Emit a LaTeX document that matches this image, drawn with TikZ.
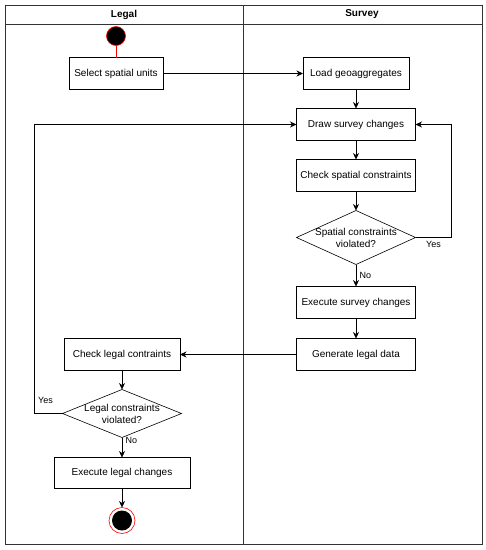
\documentclass[tikz,border=0pt]{standalone}
\usepackage{fontspec}
\setmainfont{Liberation Sans}
\usetikzlibrary{positioning, shapes.geometric, arrows.meta}

\begin{document}
\begin{tikzpicture}[x=1pt, y=-1pt,
      node distance=19pt, line width=0.6pt,
      act/.style={draw, minimum width=119pt, minimum height=32pt, inner sep=2pt, outer sep=0pt},
      dec/.style={draw, diamond, minimum width=119pt, minimum height=54pt, inner sep=0pt, outer sep=0pt},
      initial/.style={circle, draw=red, fill=black, minimum size=19pt, inner sep=0pt},
      final/.style={circle, draw=red, minimum size=26pt, inner sep=0pt, outer sep=0pt,
                    path picture={\fill (path picture bounding box.center) circle (10pt);}},
      arr/.style={->, >={Stealth[length=6.5pt, width=6pt]}},
      lbl/.style={font=\small},
    ]
    \useasboundingbox (0,0) rectangle (486,550);
    % swimlanes
    \draw[line width=0.8pt, black!80] (5,5) rectangle (482,544);
    \draw[black!80] (5,24) -- (482,24);
    \draw[black!80] (243,5) -- (243,544);
    \node[font=\bfseries] (hlegal) at (124,14.5) {Legal};
    \node[font=\bfseries] (hsurvey) at (362,14.5) {Survey};
    % Legal side (top)
    \node[initial] (start) at (116,36) {};
    \node[act, minimum width=94pt] (sel) at (116,73.5) {Select spatial units};
    % Survey side
    \node[act, minimum width=106pt] (load) at (356,73.5) {Load geoaggregates};
    \node[act, below=of load] (drw) {Draw survey changes};
    \node[act, below=of drw] (chks) {Check spatial constraints};
    \node[dec, below=of chks] (qs) {};
    \node[align=center] (qst) at (qs) {Spatial constraints\\violated?};
    \node[act, below=22pt of qs] (exs) {Execute survey changes};
    \node[act, below=20pt of exs] (gen) {Generate legal data};
    % Legal side (bottom)
    \node[act, minimum width=116pt] (chkl) at (122,354.5) {Check legal contraints};
    \node[dec, minimum height=48pt, below=of chkl] (ql) {};
    \node[align=center] (qlt) at (ql) {Legal constraints\\violated?};
    \node[act, minimum width=136pt, minimum height=31pt, below=20pt of ql] (exl) {Execute legal changes};
    \node[final, below=19pt of exl] (stop) {};
    % arrows
    \draw[red] (start) -- (sel);
    \draw[arr] (sel) -- (load);
    \draw[arr] (load) -- (drw);
    \draw[arr] (drw) -- (chks);
    \draw[arr] (chks) -- (qs);
    \draw[arr] (qs) -- node[lbl, right]{No} (exs);
    \draw[arr] (qs.east) -- node[lbl, below]{Yes} ++(36,0) |- (drw.east);
    \draw[arr] (exs) -- (gen);
    \draw[arr] (gen) -- (chkl);
    \draw[arr] (chkl) -- (ql);
    \draw[arr] (ql) -- node[lbl, right, pos=0.15]{No} (exl);
    \draw[arr] (ql.west) -- ++(-28,0) node[lbl, anchor=south west, yshift=6pt]{Yes} |- (drw.west);
    \draw[arr] (exl) -- (stop);
\end{tikzpicture}
\end{document}
